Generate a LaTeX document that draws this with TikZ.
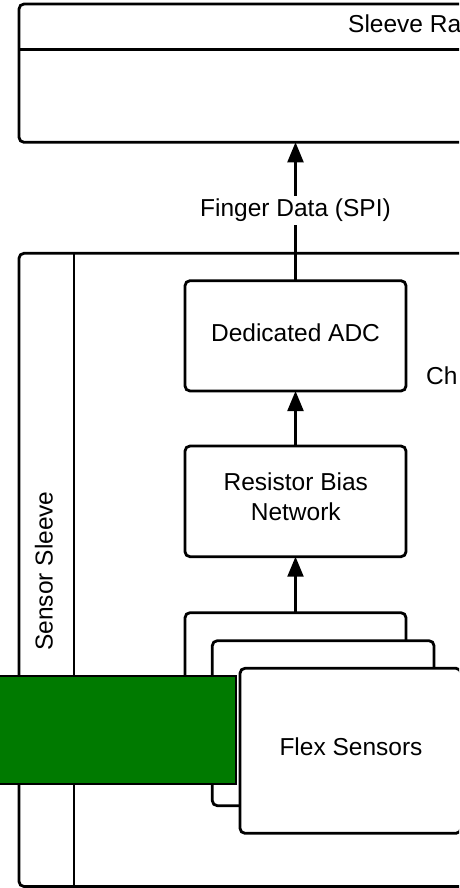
\documentclass[tikz,border=0pt]{standalone}
\usepackage{fontspec}
\setmainfont{Liberation Sans}
\usetikzlibrary{arrows.meta}
\definecolor{sgreen}{RGB}{0,122,0}
\begin{document}
\begin{tikzpicture}[x=1pt,y=-1pt,
  box/.style={draw, line width=2.8pt, rounded corners=5pt, inner sep=0pt, outer sep=0pt, fill=white},
  lbl/.style={inner sep=0pt, font=\fontsize{24.5}{30}\selectfont},
  conn/.style={line width=2.2pt, -{Triangle[width=16pt,length=20pt]}}]
\useasboundingbox (0,0) rectangle (459,888);
\clip (0,0) rectangle (459,888);
% Sleeve box (top)
\node[box, anchor=north west, minimum width=600pt, minimum height=138.3pt] (sleeve) at (19,4) {};
\coordinate (hl) at (19,49.5);
\draw[line width=2.8pt] (hl) -- ++(620,0);
\node[lbl, anchor=base west] (sleevet) at (348,32.3) {Sleeve Ra};
% Sensor sleeve outer box
\node[box, anchor=north west, minimum width=650pt, minimum height=633.2pt] (outer) at (19,253.3) {};
\coordinate (vt) at (74,253.3);
\coordinate (vb) at (74,886.5);
\draw[line width=2.8pt] (vt) -- (vb);
\node[lbl, rotate=90, anchor=base] (sst) at (52.7,571) {Sensor Sleeve};
% Dedicated ADC
\node[box, anchor=north west, minimum width=221pt, minimum height=110.3pt] (adc) at (185,280.7) {};
\node[lbl, anchor=base] (adct) at (295.5,341.7) {Dedicated ADC};
\node[lbl, anchor=base west] (cht) at (426,384) {Ch};
% Resistor Bias Network
\node[box, anchor=north west, minimum width=221pt, minimum height=110.7pt] (res) at (185,446) {};
\node[lbl, anchor=base] (rest1) at (295.8,490.7) {Resistor Bias};
\node[lbl, anchor=base] (rest2) at (295.8,520.7) {Network};
% Flex sensors stack
\node[box, anchor=north west, minimum width=221pt, minimum height=165pt] (flex1) at (185,612.7) {};
\node[box, anchor=north west, minimum width=221.7pt, minimum height=165pt] (flex2) at (212.3,640.7) {};
\node[draw=black, line width=2.2pt, fill=sgreen, inner sep=0pt, outer sep=0pt, anchor=north west, minimum width=246pt, minimum height=108.3pt] (green) at (-10,676) {};
\node[box, anchor=north west, minimum width=221pt, minimum height=165pt] (flex3) at (240,668.3) {};
\node[lbl, anchor=base] (flext) at (351,755) {Flex Sensors};
% Connectors
\draw[conn] (flex1.north) -- (res.south);
\draw[conn] (res.north) -- (adc.south);
\draw[conn] (adc.north) -- (adc.north |- sleeve.south);
\node[lbl, fill=white, inner ysep=3pt, anchor=base] (fd) at (295.5,216.7) {Finger Data (SPI)};
\end{tikzpicture}
\end{document}
